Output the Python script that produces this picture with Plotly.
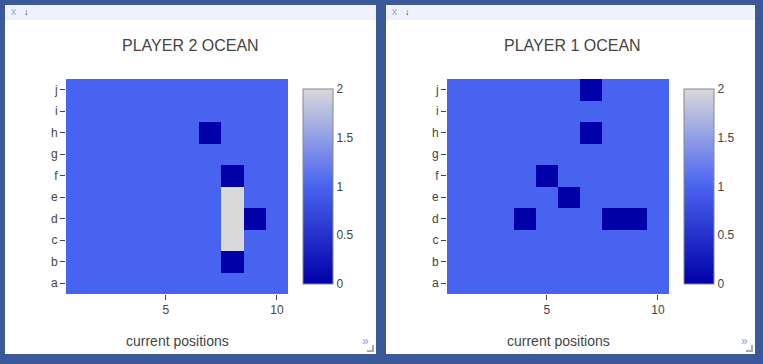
import plotly.graph_objects as go

rows = ["a", "b", "c", "d", "e", "f", "g", "h", "i", "j"]
cols = [1, 2, 3, 4, 5, 6, 7, 8, 9, 10]

# values per row (a..j), columns 1..10
p2_ocean = [
    [1, 1, 1, 1, 1, 1, 1, 1, 1, 1],  # a
    [1, 1, 1, 1, 1, 1, 1, 0, 1, 1],  # b
    [1, 1, 1, 1, 1, 1, 1, 2, 1, 1],  # c
    [1, 1, 1, 1, 1, 1, 1, 2, 0, 1],  # d
    [1, 1, 1, 1, 1, 1, 1, 2, 1, 1],  # e
    [1, 1, 1, 1, 1, 1, 1, 0, 1, 1],  # f
    [1, 1, 1, 1, 1, 1, 1, 1, 1, 1],  # g
    [1, 1, 1, 1, 1, 1, 0, 1, 1, 1],  # h
    [1, 1, 1, 1, 1, 1, 1, 1, 1, 1],  # i
    [1, 1, 1, 1, 1, 1, 1, 1, 1, 1],  # j
]
p1_ocean = [
    [1, 1, 1, 1, 1, 1, 1, 1, 1, 1],  # a
    [1, 1, 1, 1, 1, 1, 1, 1, 1, 1],  # b
    [1, 1, 1, 1, 1, 1, 1, 1, 1, 1],  # c
    [1, 1, 1, 0, 1, 1, 1, 0, 0, 1],  # d
    [1, 1, 1, 1, 1, 0, 1, 1, 1, 1],  # e
    [1, 1, 1, 1, 0, 1, 1, 1, 1, 1],  # f
    [1, 1, 1, 1, 1, 1, 1, 1, 1, 1],  # g
    [1, 1, 1, 1, 1, 1, 0, 1, 1, 1],  # h
    [1, 1, 1, 1, 1, 1, 1, 1, 1, 1],  # i
    [1, 1, 1, 1, 1, 1, 0, 1, 1, 1],  # j
]
titles = ["PLAYER 2 OCEAN", "PLAYER 1 OCEAN"]
xtitle = "current positions"
cb_ticks = [0, 0.5, 1, 1.5, 2]

W, H = 763, 364
def px(x): return x / W
def py(y): return 1 - y / H

scale = [[0, "#0000A8"], [0.5, "#4863F0"], [1, "#D9D9D9"]]
font = dict(family="Liberation Sans, Arial, sans-serif", color="#444", size=12)

fig = go.Figure()

panels = [
    dict(x0=5, x1=376, hx0=66, hx1=288, cbx=303, tx=190),
    dict(x0=386, x1=755, hx0=447, hx1=669, cbx=684, tx=572),
]
datas = [p2_ocean, p1_ocean]
shapes, annotations = [], []
for i, (p, z) in enumerate(zip(panels, datas)):
    xa = "x" if i == 0 else "x2"
    ya = "y" if i == 0 else "y2"
    fig.add_trace(go.Heatmap(
        z=z, x=cols, y=rows, xaxis=xa, yaxis=ya,
        colorscale=scale, zmin=0, zmax=2,
        colorbar=dict(
            x=px(p["cbx"]), xanchor="left", xpad=0, ypad=0,
            y=py(186.5), yanchor="middle",
            thickness=30, lenmode="pixels", len=195,
            outlinecolor="#888", outlinewidth=1,
            tickvals=cb_ticks, ticktext=[f"{t:g}" for t in cb_ticks],
            ticks="", tickfont=font,
        ),
    ))
    # panel background
    shapes.append(dict(type="rect", xref="paper", yref="paper", layer="below",
                       x0=px(p["x0"]), x1=px(p["x1"]), y0=py(354), y1=py(5),
                       fillcolor="white", line=dict(width=0)))
    shapes.append(dict(type="rect", xref="paper", yref="paper", layer="below",
                       x0=px(p["x0"]), x1=px(p["x1"]), y0=py(20), y1=py(5),
                       fillcolor="#EEF2FC", line=dict(width=0)))
    # resize corner
    shapes.append(dict(type="path", xref="paper", yref="paper",
                       path=f"M {px(p['x1']-9)} {py(351)} L {px(p['x1']-3)} {py(351)} L {px(p['x1']-3)} {py(345)}",
                       line=dict(color="#AAA", width=2)))
    annotations += [
        dict(text=titles[i], x=px(p["tx"]), y=py(45), xref="paper", yref="paper",
             showarrow=False, xanchor="center", yanchor="middle",
             font=dict(family=font["family"], color="#444", size=16)),
        dict(text=xtitle, x=px((p["hx0"] + p["hx1"]) / 2), y=py(341), xref="paper", yref="paper",
             showarrow=False, xanchor="center", yanchor="middle",
             font=dict(family=font["family"], color="#444", size=14)),
        dict(text="x", x=px(p["x0"] + 8), y=py(12), xref="paper", yref="paper",
             showarrow=False, xanchor="center", yanchor="middle",
             font=dict(family=font["family"], color="#9AA8C8", size=10)),
        dict(text="↓", x=px(p["x0"] + 21), y=py(12), xref="paper", yref="paper",
             showarrow=False, xanchor="center", yanchor="middle",
             font=dict(family=font["family"], color="#333", size=9)),
        dict(text="»", x=px(p["x1"] - 11), y=py(341), xref="paper", yref="paper",
             showarrow=False, xanchor="center", yanchor="middle",
             font=dict(family=font["family"], color="#7FA0F0", size=12)),
    ]

axis_common = dict(showgrid=False, zeroline=False, showline=False,
                   ticks="outside", ticklen=5, tickcolor="#444", tickfont=font)
fig.update_layout(
    width=W, height=H, margin=dict(l=0, r=0, t=0, b=0),
    paper_bgcolor="#3B5998", plot_bgcolor="white",
    showlegend=False, font=font,
    shapes=shapes, annotations=annotations,
    xaxis=dict(domain=[px(66), px(288)], range=[0.5, 10.5], tickvals=[5, 10], anchor="y", **axis_common),
    yaxis=dict(domain=[py(294), py(79)], anchor="x", **axis_common),
    xaxis2=dict(domain=[px(447), px(669)], range=[0.5, 10.5], tickvals=[5, 10], anchor="y2", **axis_common),
    yaxis2=dict(domain=[py(294), py(79)], anchor="x2", **axis_common),
)
fig.write_html("out.html", config={"displayModeBar": False},
               post_script="document.body.style.margin='0px';document.body.style.overflow='hidden';")
